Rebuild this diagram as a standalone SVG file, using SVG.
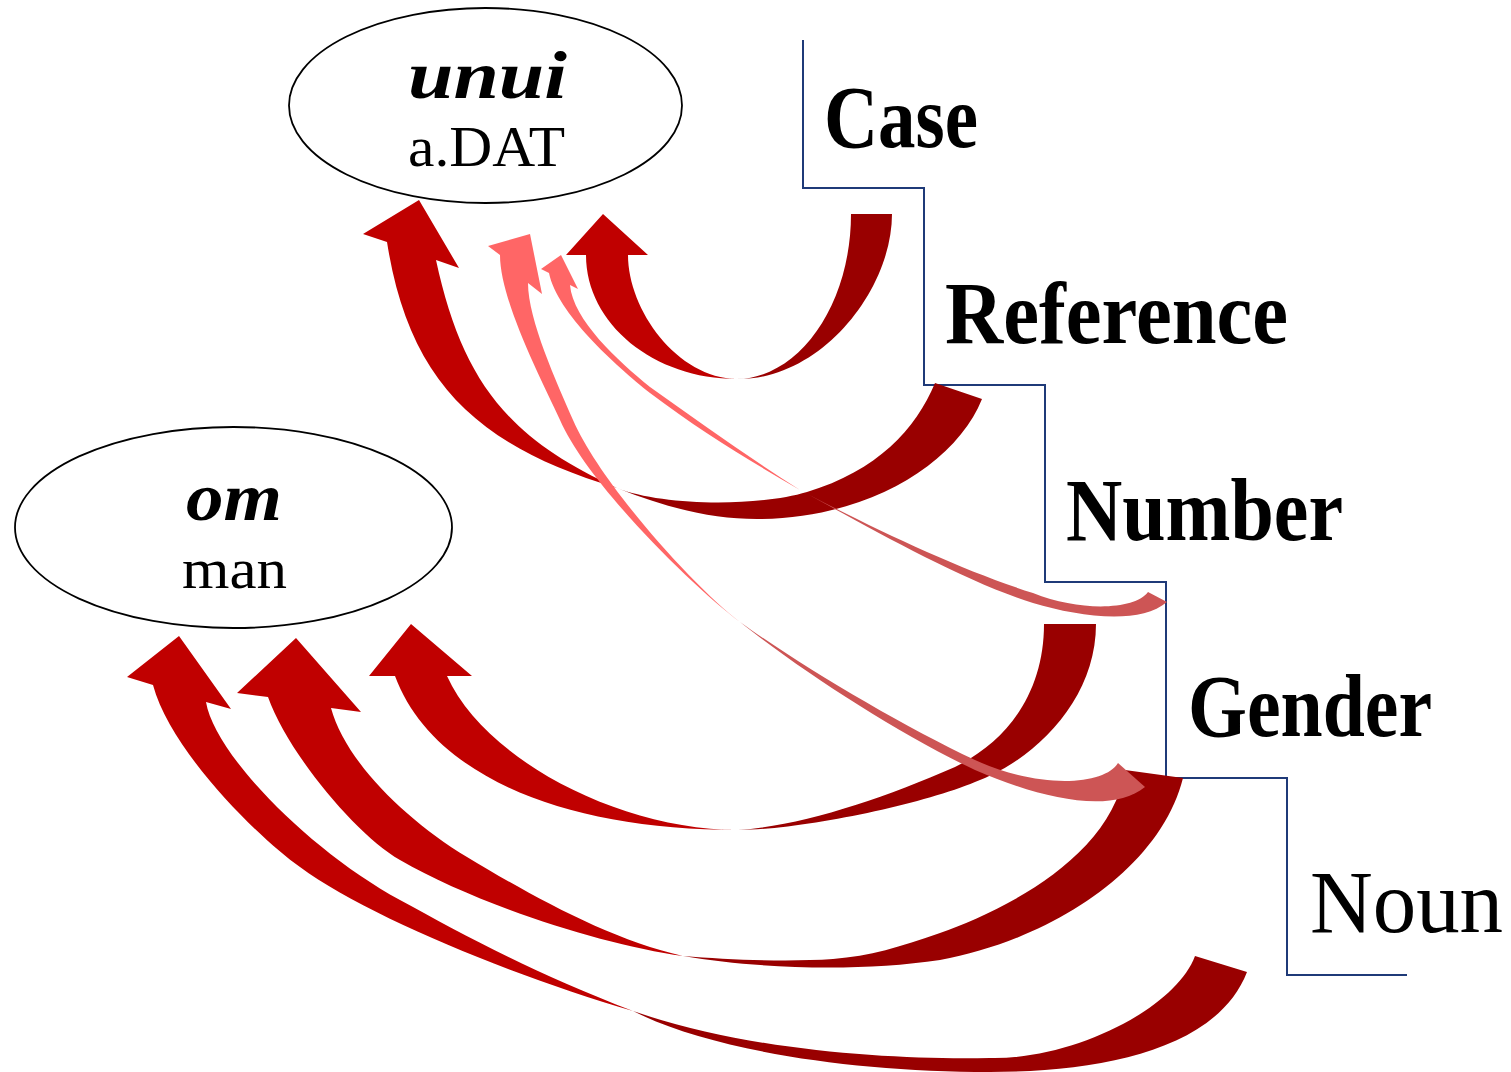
<svg xmlns="http://www.w3.org/2000/svg" width="1511" height="1072" viewBox="0 0 1511 1072">
<style>
.stair{fill:none;stroke:#1F3A78;stroke-width:2}
.front{fill:#C00000}
.back{fill:#990000}
.lfront{fill:#FF6666}
.lback{fill:#CD5555}
.node{fill:#FFFFFF;stroke:#000000;stroke-width:1.8}
.lab{font-family:"Liberation Serif","Times New Roman",serif;font-weight:bold;font-size:88px;fill:#000}
.labn{font-family:"Liberation Serif","Times New Roman",serif;font-weight:normal;font-size:88px;fill:#000}
.word{font-family:"Liberation Serif","Times New Roman",serif;font-weight:bold;font-style:italic;font-size:68px;fill:#000}
.gloss{font-family:"Liberation Serif","Times New Roman",serif;font-size:56px;fill:#000}
</style>
<rect x="0" y="0" width="1511" height="1072" fill="#FFFFFF"/>
<g id="connectors">
  <path id="staircase" class="stair" d="M803,40 V188 H924 V385 H1045 V582 H1166 V778 H1287 V975 H1407"/>
  <g id="arrow-case-unui">
    <path class="front" d="M586,255 C586,324 654,379 737,379 C677,378 628,310 628,255 L648,255 L603,214 L566,255 Z"/>
    <path class="back" d="M737,379 C822,380 892,289 892,214 L851,214 C851,304 800,378 737,379 Z"/>
  </g>
  <g id="arrow-reference-unui">
    <path class="front" d="M387,242 C409,382 477,446 617,488 C507,438 462,380 436,260 L459,268 L419,200 L363,234 Z"/>
    <path class="back" d="M617,488 C667,508 712,519 757,519 C867,519 956,464 982,399 L935,383 C916,429 877,471 807,492 C757,507 662,506 617,488 Z"/>
  </g>
  <g id="arrow-number-om">
    <path class="front" d="M395,676 C433,778 568,830 738,830 C620,830 485,760 447,676 L472,676 L411,624 L369,676 Z"/>
    <path class="back" d="M738,830 C800,830 920,805 975,782 C1035,760 1096,700 1096,624 L1044,624 C1044,690 1010,740 955,767 C880,800 800,826 738,830 Z"/>
  </g>
  <g id="arrow-gender-om">
    <path class="front" d="M268,697 C288,753 356,835 400,860 C478,905 603,945 683,956 C610,940 530,895 467,857 S345,760 331,708 L361,712 L296,638 L237,693 Z"/>
    <path class="back" d="M683,956 C760,969 860,972 940,960 C1050,940 1160,870 1183,778 L1125,770 C1112,858 1000,912 940,933 C900,947 870,956 833,959 C790,962 730,960 683,956 Z"/>
  </g>
  <g id="arrow-noun-om">
    <path class="front" d="M153,685 C171,752 259,838 300,867 C365,915 510,975 633,1011 C533,973 462,934 400,900 C310,851 215,755 206,702 L231,709 L179,636 L127,677 Z"/>
    <path class="back" d="M633,1011 C710,1050 850,1072 990,1072 C1100,1072 1217,1050 1247,972 L1195,956 C1175,1010 1070,1060 990,1058 C900,1060 750,1052 633,1011 Z"/>
  </g>
  <g id="arrow-number-unui">
    <path class="lfront" d="M549,273 C557,313 615,365 650,393 C700,431 750,461 800,490 C748,457 698,421 650,387 C618,361 573,320 570,285 L578,289 L561,255 L541,269 Z"/>
    <path class="lback" d="M800,490 C870,528 960,580 1033,603 C1080,617 1140,625 1167,602 L1148,592 C1135,610 1080,612 1033,593 C960,570 870,527 800,490 Z"/>
  </g>
  <g id="arrow-gender-unui">
    <path class="lfront" d="M500,255 C500,300 541,379 560,420 C588,484 692,586 740,622 C694,587 601,484 573,420 C557,383 528,320 528,283 L542,294 L530,234 L488,246 Z"/>
    <path class="lback" d="M740,622 C800,670 900,735 975,770 C1040,798 1110,815 1145,787 L1118,763 C1105,785 1040,790 975,760 C900,725 800,665 740,622 Z"/>
  </g>
</g>
<g id="node-unui">
  <ellipse class="node" cx="485.5" cy="105.5" rx="196.5" ry="97.5"/>
  <text class="word" x="408" y="98" textLength="159" lengthAdjust="spacingAndGlyphs">unui</text>
  <text class="gloss" x="408" y="166" textLength="157" lengthAdjust="spacingAndGlyphs">a.DAT</text>
</g>
<g id="node-om">
  <ellipse class="node" cx="233.5" cy="527.5" rx="218.5" ry="100.5"/>
  <text class="word" x="186" y="520" textLength="96" lengthAdjust="spacingAndGlyphs">om</text>
  <text class="gloss" x="182" y="588" textLength="105" lengthAdjust="spacingAndGlyphs">man</text>
</g>
<g id="label-case"><text class="lab" x="824" y="147" textLength="154" lengthAdjust="spacingAndGlyphs">Case</text></g>
<g id="label-reference"><text class="lab" x="945" y="343" textLength="343" lengthAdjust="spacingAndGlyphs">Reference</text></g>
<g id="label-number"><text class="lab" x="1066" y="540" textLength="277" lengthAdjust="spacingAndGlyphs">Number</text></g>
<g id="label-gender"><text class="lab" x="1188" y="736" textLength="244" lengthAdjust="spacingAndGlyphs">Gender</text></g>
<g id="label-noun"><text class="labn" x="1310" y="932" textLength="193" lengthAdjust="spacingAndGlyphs">Noun</text></g>
</svg>
